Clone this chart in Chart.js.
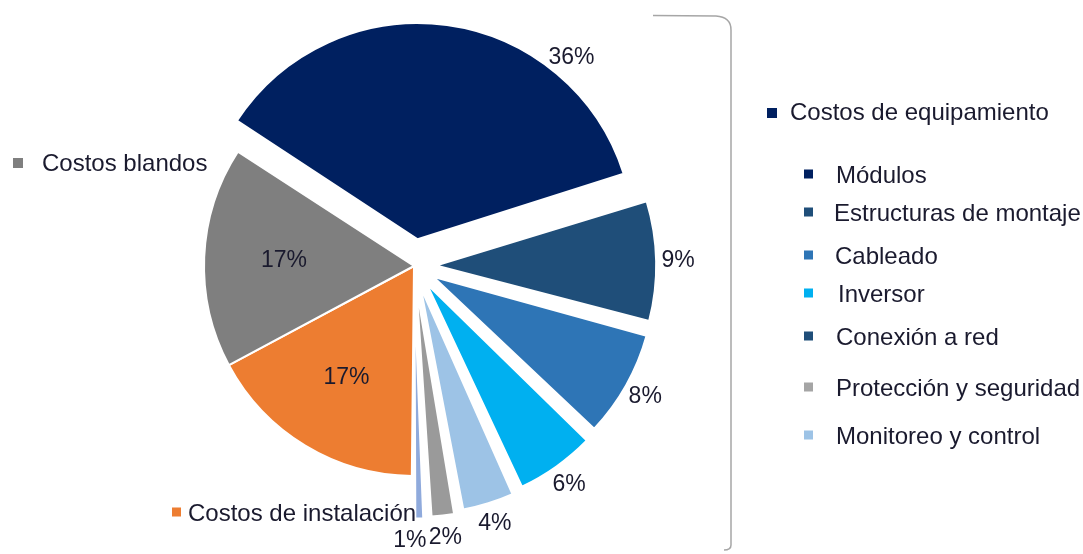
<!DOCTYPE html>
<html lang="es">
<head>
<meta charset="utf-8">
<title>Distribución de costos</title>
<script src="https://cdn.jsdelivr.net/npm/chart.js@4.4.1/dist/chart.umd.min.js"></script>
<style>
  html, body { margin: 0; padding: 0; background: #fff; }
  #wrap { position: relative; width: 1083px; height: 554px; }
</style>
</head>
<body>
<div id="wrap"><canvas id="chart" width="1083" height="554"></canvas></div>
<script>
// equipment items, in slice order
const equipment = ['Módulos', 'Estructuras de montaje', 'Cableado', 'Inversor', 'Monitoreo y control', 'Protección y seguridad', 'Conexión a red'];
const equipmentShares = [36, 9, 8, 6, 4, 2, 1];
const otherCosts = ['Costos de instalación', 'Costos blandos'];
const otherShares = [17, 17];
const groupTitle = 'Costos de equipamiento';
// right-hand legend, in the order it is listed
const legendItems = ['Módulos', 'Estructuras de montaje', 'Cableado', 'Inversor', 'Conexión a red', 'Protección y seguridad', 'Monitoreo y control'];

const labels = equipment.concat(otherCosts);
const shares = equipmentShares.concat(otherShares);

const sliceColors = ['#002060', '#1f4e79', '#2e75b6', '#00b0f0', '#9dc3e6', '#9a9a9a', '#8faadc', '#ed7d31', '#7f7f7f'];
const legendColors = ['#002060', '#1f4e79', '#2e75b6', '#00b0f0', '#1f4e79', '#a5a5a5', '#9dc3e6'];
const TEXT = '#1a1a2e';
const FONT = '"Liberation Sans", Arial, sans-serif';

// equipment slices are pulled out of the pie (offset is 4x the shift in px)
const offsets = labels.map((_, i) => i === 0 ? 108 : (i < equipment.length ? 88 : 0));

const overlaps = (a, b) => Math.abs(a.x - b.x) < (a.w + b.w) / 2 && Math.abs(a.y - b.y) < (a.h + b.h) / 2;

const decorations = {
  id: 'decorations',
  afterDatasetsDraw(chart) {
    const ctx = chart.ctx;
    const meta = chart.getDatasetMeta(0);
    ctx.save();
    ctx.font = '23px ' + FONT;
    ctx.fillStyle = TEXT;
    ctx.textAlign = 'center';
    ctx.textBaseline = 'middle';
    const placed = [];
    meta.data.forEach((arc, i) => {
      const p = arc.getProps(['x', 'y', 'startAngle', 'endAngle', 'outerRadius', 'circumference'], true);
      const shift = (arc.options.offset || 0) / 4;
      const mid = (p.startAngle + p.endAngle) / 2;
      const text = shares[i] + '%';
      let x, y;
      if (shift > 0) {
        // outside the pulled slice; wide slices get it nearer their trailing edge
        const grow = shift * (1 - Math.sin(Math.min(Math.PI, p.circumference)));
        const a = p.circumference > Math.PI / 2 ? p.startAngle + p.circumference * 0.75 : mid;
        const r = p.outerRadius + grow + 22;
        x = p.x + Math.cos(mid) * shift + Math.cos(a) * r;
        y = p.y + Math.sin(mid) * shift + Math.sin(a) * r;
      } else {
        const r = p.outerRadius * 0.62;
        x = p.x + Math.cos(mid) * r;
        y = p.y + Math.sin(mid) * r;
      }
      const box = { x, y, w: ctx.measureText(text).width + 2, h: 18 };
      const prev = placed[placed.length - 1];
      if (prev && overlaps(box, prev)) {
        const dx = box.x - prev.x, dy = box.y - prev.y;
        const len = Math.hypot(dx, dy) || 1;
        // slide along the baseline, away from the previous label
        const sx = dx === 0 ? -1 : Math.sign(dx);
        let n = 0;
        while (overlaps(box, prev) && n++ < 60) box.x += sx;
      }
      placed.push(box);
      ctx.fillText(text, box.x, box.y);
    });
    ctx.restore();
  },
  afterDraw(chart) {
    const ctx = chart.ctx;
    ctx.save();

    // bracket around the pulled-out group
    ctx.strokeStyle = '#a6a6a6';
    ctx.lineWidth = 1.5;
    ctx.beginPath();
    ctx.moveTo(653, 15.5);
    ctx.lineTo(716, 16);
    ctx.quadraticCurveTo(731, 17, 731, 30);
    ctx.lineTo(731, 545);
    ctx.quadraticCurveTo(731, 550, 724, 550);
    ctx.stroke();

    ctx.font = '24px ' + FONT;
    ctx.textBaseline = 'middle';
    ctx.textAlign = 'left';

    const item = (color, sx, sy, size, label, tx, ty) => {
      ctx.fillStyle = color;
      ctx.fillRect(sx, sy - size / 2, size, size);
      ctx.fillStyle = TEXT;
      ctx.fillText(label, tx, ty);
    };

    item(sliceColors[8], 13, 163, 10, otherCosts[1], 42, 164);
    item(sliceColors[7], 172, 512, 9, otherCosts[0], 188, 514);
    item(sliceColors[0], 767, 113, 10, groupTitle, 790, 113);

    const rows = [176, 214, 257, 295, 338, 389, 437];
    const textX = [836, 834, 835, 838, 836, 836, 836];
    legendItems.forEach((name, i) => {
      item(legendColors[i], 804, rows[i] - 2, 9, name, textX[i], rows[i]);
    });

    ctx.restore();
  }
};

new Chart(document.getElementById('chart'), {
  type: 'pie',
  data: {
    labels,
    datasets: [{
      data: shares,
      backgroundColor: sliceColors,
      borderColor: '#ffffff',
      borderWidth: 2,
      offset: offsets,
      hoverOffset: 0
    }]
  },
  options: {
    responsive: false,
    animation: false,
    rotation: -57,
    radius: 210,
    layout: { padding: { left: 0, right: 255, top: 0, bottom: 22 } },
    plugins: {
      legend: { display: false },
      tooltip: { enabled: false }
    },
    events: []
  },
  plugins: [decorations]
});
</script>
</body>
</html>
